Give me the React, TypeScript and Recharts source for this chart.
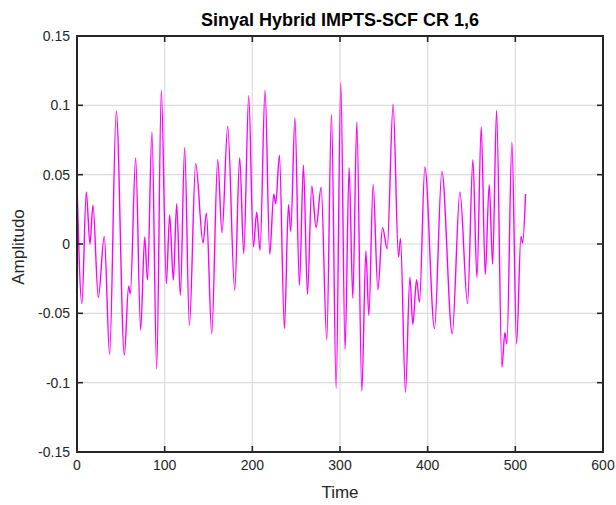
import { LineChart, Line, XAxis, YAxis, CartesianGrid } from "recharts";

// extrema of the signal (time, amplitude)
const times = [
  0, 5.6, 10.6, 14.8, 18.2, 24.3, 31.1, 37.2, 44.8, 54.0, 58.9, 60.8, 66.9, 72.6, 77.2,
  80.4, 85.5, 90.9, 96.2, 101.9, 105.7, 109.9, 113.7, 117.9, 122.8, 128.2, 135.4, 143.8,
  147.6, 153.7, 160.5, 165.4, 171.9, 179.9, 185.6, 190.2, 195.9, 201.2, 205.0, 208.8,
  214.5, 219.9, 224.4, 226.7, 230.9, 236.6, 241.2, 243.8, 248.6, 253.7, 258.3, 262.9,
  267.8, 272.7, 278.5, 284.9, 290.3, 295.6, 300.9, 305.8, 310.4, 314.6, 319.2, 324.9,
  329.5, 332.9, 337.8, 343.2, 348.5, 353.8, 360.6, 366.7, 369.0, 374.7, 379.7, 383.1,
  387.3, 390.7, 396.8, 407.8, 416.2, 428.0, 436.8, 445.5, 451.6, 456.2, 461.1, 465.7,
  470.2, 474.1, 478.6, 484.7, 488.1, 490.4, 496.1, 501.4, 506.4, 508.3, 511.7,
];
const amplitudes = [
  0.044, -0.043, 0.0375, 0.0, 0.028, -0.0387, 0.0055, -0.0796, 0.096, -0.08, -0.0305, -0.036,
  0.062, -0.062, 0.005, -0.026, 0.081, -0.09, 0.111, -0.0286, 0.021, -0.026, 0.029, -0.037,
  0.0695, -0.0587, 0.058, 0.0007, 0.0224, -0.0647, 0.0608, 0.008, 0.085, -0.0334, 0.0623,
  -0.007, 0.107, -0.002, 0.023, -0.0046, 0.111, -0.0075, 0.036, 0.029, 0.064, -0.061,
  0.0286, 0.009, 0.091, -0.0298, 0.0568, -0.0363, 0.0418, 0.0118, 0.041, -0.069, 0.0936,
  -0.104, 0.1164, -0.076, 0.055, -0.039, 0.088, -0.106, -0.005, -0.0515, 0.043, -0.033,
  0.0118, -0.0034, 0.1008, -0.0094, 0.004, -0.107, -0.024, -0.058, -0.0257, -0.042, 0.0556,
  -0.061, 0.0524, -0.0647, 0.0375, -0.043, 0.0608, -0.0243, 0.0844, -0.022, 0.043, -0.0147,
  0.0964, -0.0887, -0.064, -0.072, 0.0736, -0.072, 0.0055, 0.0007, 0.036,
];

const xTicks = [0, 100, 200, 300, 400, 500, 600];
const yTicks = [-0.15, -0.1, -0.05, 0, 0.05, 0.1, 0.15];
const yTickLabels = ["-0.15", "-0.1", "-0.05", "0", "0.05", "0.1", "0.15"];

const data = times.map((t, i) => ({ t, v: amplitudes[i] }));

const INK = "#262626";
const FONT = "'Liberation Sans', Arial, Helvetica, sans-serif";
const TICK_LEN = 6;
const PLOT_X = 77;
const PLOT_Y = 36;
const PLOT_W = 526;
const PLOT_H = 416;

// MATLAB style ticks point inward, on both sides of the box
const BottomTick = ({ x, y, payload }: any) => {
  const axisY = y - 8;
  return (
    <g>
      <line x1={x} y1={axisY} x2={x} y2={axisY - TICK_LEN} stroke={INK} strokeWidth={1.6} />
      <line x1={x} y1={axisY - PLOT_H} x2={x} y2={axisY - PLOT_H + TICK_LEN} stroke={INK} strokeWidth={1.6} />
      <text x={x} y={y} dy="0.71em" textAnchor="middle" fill={INK} fontSize={14} fontFamily={FONT}>
        {payload.value}
      </text>
    </g>
  );
};

const LeftTick = ({ x, y, payload }: any) => {
  const axisX = x + 7;
  return (
    <g>
      <line x1={axisX} y1={y} x2={axisX + TICK_LEN} y2={y} stroke={INK} strokeWidth={1.6} />
      <line x1={axisX + PLOT_W} y1={y} x2={axisX + PLOT_W - TICK_LEN} y2={y} stroke={INK} strokeWidth={1.6} />
      <text x={x} y={y} dy="0.355em" textAnchor="end" fill={INK} fontSize={14} fontFamily={FONT}>
        {yTickLabels[yTicks.indexOf(payload.value)]}
      </text>
    </g>
  );
};

// y label plus the full axes box (top and right edges included)
const YLabelAndBox = (p: any) => {
  const vb = p.viewBox;
  const cy = vb.y + vb.height / 2 + 3;
  return (
    <g>
      <rect
        x={vb.x + vb.width}
        y={vb.y}
        width={PLOT_W}
        height={vb.height}
        fill="none"
        stroke={INK}
        strokeWidth={2}
      />
      <text
        x={0}
        y={0}
        transform={`translate(24, ${cy}) rotate(-90)`}
        textAnchor="middle"
        fill={INK}
        fontSize={17}
        fontFamily={FONT}
      >
        Amplitudo
      </text>
    </g>
  );
};

const XLabelAndTitle = (p: any) => {
  const vb = p.viewBox;
  const cx = vb.x + vb.width / 2;
  return (
    <g>
      <text x={cx} y={vb.y + 46} textAnchor="middle" fill={INK} fontSize={17} fontFamily={FONT}>
        Time
      </text>
      <text
        x={cx}
        y={vb.y - PLOT_H - 10}
        textAnchor="middle"
        fill="#000"
        fontSize={18}
        fontWeight="bold"
        fontFamily={FONT}
      >
        Sinyal Hybrid IMPTS-SCF CR 1,6
      </text>
    </g>
  );
};

const App = () => {
  return (
    <div style={{ position: "absolute", left: 0, top: 0, width: 616, height: 505, background: "#fff" }}>
      <LineChart width={616} height={505} data={data} margin={{ top: PLOT_Y, right: 616 - PLOT_X - PLOT_W, left: 0, bottom: 0 }}>
        <CartesianGrid stroke="#dcdcdc" strokeWidth={1.2} />
        <XAxis
          dataKey="t"
          type="number"
          domain={[0, 600]}
          ticks={xTicks}
          interval={0}
          height={505 - PLOT_Y - PLOT_H}
          tickSize={0}
          tickMargin={8}
          tickLine={false}
          axisLine={{ stroke: INK, strokeWidth: 2 }}
          tick={BottomTick}
          label={XLabelAndTitle}
        />
        <YAxis
          type="number"
          domain={[-0.15, 0.15]}
          ticks={yTicks}
          interval={0}
          width={PLOT_X}
          tickSize={0}
          tickMargin={7}
          tickLine={false}
          axisLine={{ stroke: INK, strokeWidth: 2 }}
          tick={LeftTick}
          label={YLabelAndBox}
        />
        <Line
          type="monotone"
          dataKey="v"
          stroke="#ff00ff"
          strokeWidth={1.4}
          dot={false}
          isAnimationActive={false}
        />
      </LineChart>
      {/* axes box drawn over the chart so the top and right edges stay dark */}
      <div
        style={{
          position: "absolute",
          left: PLOT_X - 1,
          top: PLOT_Y - 1,
          width: PLOT_W + 2,
          height: PLOT_H + 2,
          boxSizing: "border-box",
          borderStyle: "solid",
          borderColor: INK,
          borderWidth: 2,
          pointerEvents: "none",
          zIndex: 5,
        }}
      />
    </div>
  );
};

export default App;
